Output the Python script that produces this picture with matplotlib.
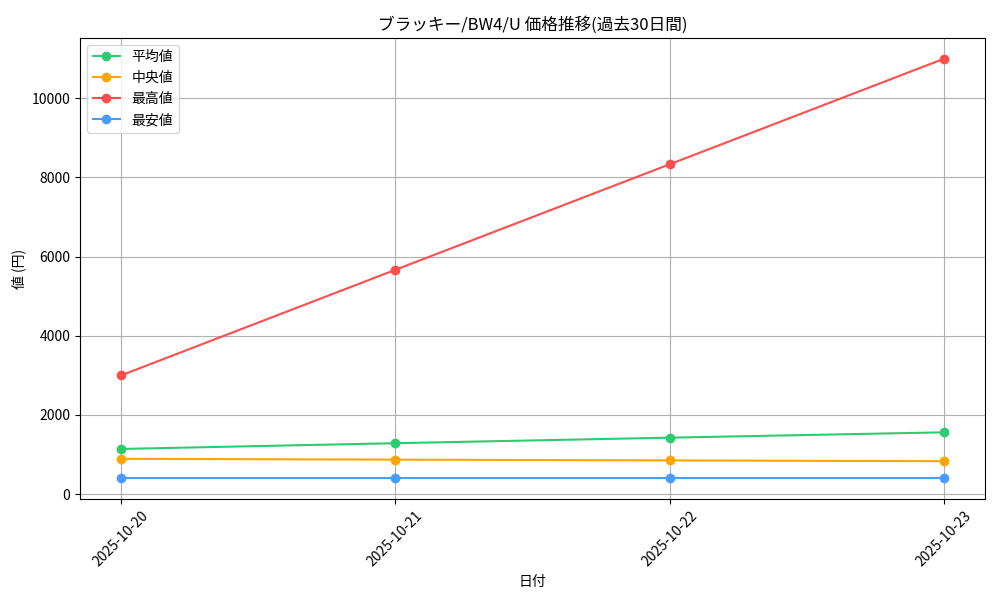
import matplotlib
matplotlib.use("Agg")
import matplotlib.pyplot as plt

plt.rcParams['font.family'] = ['Noto Sans CJK JP', 'DejaVu Sans']

dates = ["2025-10-20", "2025-10-21", "2025-10-22", "2025-10-23"]
avg_vals = [1140, 1285, 1425, 1560]
median_vals = [890, 870, 850, 830]
max_vals = [3000, 5667, 8333, 11000]
min_vals = [400, 400, 400, 400]

fig, ax = plt.subplots(figsize=(10, 6), dpi=100)
ax.plot(dates, avg_vals, marker="o", color="#2ecc71", label="平均値")
ax.plot(dates, median_vals, marker="o", color="#ffa500", label="中央値")
ax.plot(dates, max_vals, marker="o", color="#ff4c4c", label="最高値")
ax.plot(dates, min_vals, marker="o", color="#4c9cff", label="最安値")

ax.set_title("ブラッキー/BW4/U 価格推移(過去30日間)")
ax.set_xlabel("日付")
ax.set_ylabel("値 (円)")
ax.grid(True)
ax.legend(loc="upper left")
plt.xticks(rotation=45)
fig.subplots_adjust(left=0.08, right=0.985, top=0.937, bottom=0.168)
plt.savefig("out.png")
